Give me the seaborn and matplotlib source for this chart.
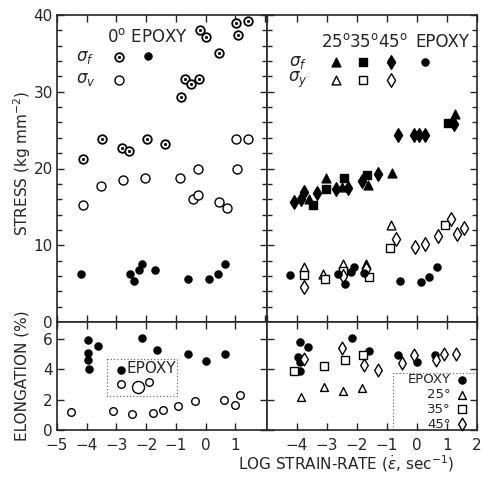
import matplotlib
matplotlib.use("Agg")
import matplotlib.pyplot as plt
import seaborn as sns
from matplotlib.ticker import MultipleLocator

# ---- upper left: stress, 0 deg composite + epoxy ----
x_0f = [-0.18, 0.02, 1.01, 1.43, 1.10, 0.44, -0.69, -0.50, -0.21, -0.83,
        -3.47, -2.80, -2.58, -1.97, -1.37, -4.14]
s_0f = [38.0, 37.1, 39.0, 39.2, 37.4, 35.0, 31.6, 31.0, 31.6, 29.3,
        23.9, 22.7, 22.3, 23.9, 23.2, 21.3]
x_0v = [1.03, 1.42, -0.25, 1.07, -4.12, -3.52, -2.78, -2.05, -0.86, -0.41, -0.25, 0.44, 0.71]
s_0v = [23.9, 23.9, 19.9, 19.9, 15.2, 17.7, 18.5, 18.8, 18.8, 16.0, 16.6, 15.6, 14.8]
x_epf_l = [-4.20, -2.55, -2.42, -2.25, -2.14, -1.69, -0.58, 0.11, 0.41, 0.66]
s_epf_l = [6.3, 6.2, 5.4, 6.8, 7.5, 6.8, 5.6, 5.6, 6.25, 7.5]

# ---- upper right: stress, 25/35/45 deg composites + epoxy ----
x_25f = [-3.61, -3.03, -2.49, -1.62, -0.84, 1.27]
s_25f = [16.0, 18.7, 17.6, 17.8, 19.4, 27.1]
x_35f = [-3.48, -3.04, -2.43, -1.68, 1.04]
s_35f = [15.3, 17.3, 18.8, 19.1, 25.9]
x_45f = [-4.11, -3.88, -3.78, -3.33, -2.70, -2.31, -1.84, -1.31, -0.62, -0.09, 0.07, 0.27, 1.22]
s_45f = [15.6, 16.0, 17.0, 16.8, 17.3, 17.5, 18.4, 19.3, 24.3, 24.3, 24.3, 24.3, 25.8]
x_25y = [-3.76, -3.12, -2.46, -1.71, -0.87]
s_25y = [7.2, 6.2, 7.6, 7.6, 12.7]
x_35y = [-3.76, -3.06, -2.46, -1.61, -0.89, 0.94]
s_35y = [6.1, 5.6, 6.6, 5.8, 9.7, 12.6]
x_45y = [-3.76, -2.46, -1.70, -0.70, -0.08, 0.28, 0.71, 1.12, 1.32, 1.56]
s_45y = [4.6, 6.0, 6.9, 10.8, 9.8, 10.2, 11.2, 13.4, 11.5, 12.2]
x_epf_r = [-4.23, -2.64, -2.40, -2.20, -2.10, -1.78, -0.57, 0.13, 0.40, 0.68]
s_epf_r = [6.1, 6.2, 5.0, 6.5, 7.2, 6.4, 5.4, 5.2, 5.9, 7.2]

# ---- lower left: elongation ----
x_ep_el_l = [-3.95, -3.95, -3.95, -3.92, -3.61, -2.14, -1.65, -0.59, 0.02, 0.64]
e_ep_el_l = [5.92, 5.05, 4.6, 4.0, 5.53, 6.03, 5.28, 5.02, 4.56, 5.0]
x_0_el = [-4.54, -3.13, -2.49, -1.77, -1.43, -0.91, -0.35, 0.61, 0.98, 1.16, -2.83, -1.91]
e_0_el = [1.16, 1.25, 1.05, 1.12, 1.30, 1.56, 1.91, 1.97, 1.66, 2.28, 3.0, 3.14]
x_0_el_big = [-2.27]
e_0_el_big = [2.85]

# ---- lower right: elongation ----
x_ep_el_r = [-3.90, -3.62, -3.96, -3.90, -3.90, -2.18, -1.59, -0.62, 0.00, 0.60]
e_ep_el_r = [5.81, 5.48, 4.82, 4.49, 3.90, 6.03, 5.22, 4.93, 4.49, 4.93]
x_25_el = [-3.88, -3.09, -2.48, -1.82]
e_25_el = [2.19, 2.85, 2.57, 2.74]
x_35_el = [-4.10, -3.09, -2.40, -1.81]
e_35_el = [3.90, 4.21, 4.61, 4.93]
x_45_el = [-3.76, -2.50, -1.77, -1.29, -0.51, -0.11, 0.63, 0.91, 1.29]
e_45_el = [4.65, 5.38, 4.28, 3.95, 4.39, 4.93, 4.61, 4.98, 4.98]

sns.set_style("ticks")
plt.rcParams['font.family'] = ['DejaVu Sans']
plt.rcParams['mathtext.fontset'] = 'dejavusans'
FS = 11


def pts(ax, x, y, marker, face, size, lw=1.0):
    sns.scatterplot(x=x, y=y, ax=ax, marker=marker, s=size, color=face,
                    edgecolor="black", linewidth=lw, legend=False, zorder=3)


def dotted(ax, x, y, size=38):
    pts(ax, x, y, "o", "white", size, lw=1.3)
    pts(ax, x, y, "o", "black", 3, lw=0.5)


def key(ax, x, y, marker, face, size, lw=1.0):
    ax.scatter([x], [y], marker=marker, s=size, c=face, edgecolors="black",
               linewidths=lw, transform=ax.transAxes, zorder=4, clip_on=False)


fig = plt.figure(figsize=(4.82, 4.82), dpi=100)
L, M, R = 57 / 482, 267 / 482, 477 / 482
T, H, B = 1 - 15 / 482, 1 - 322 / 482, 1 - 430 / 482
ax_sl = fig.add_axes([L, H, M - L, T - H])
ax_sr = fig.add_axes([M, H, R - M, T - H])
ax_el = fig.add_axes([L, B, M - L, H - B])
ax_er = fig.add_axes([M, B, R - M, H - B])

# upper left
dotted(ax_sl, x_0f, s_0f)
pts(ax_sl, x_0v, s_0v, "o", "white", 42)
pts(ax_sl, x_epf_l, s_epf_l, "o", "black", 26)

# upper right
pts(ax_sr, x_25f, s_25f, "^", "black", 40)
pts(ax_sr, x_35f, s_35f, "s", "black", 30)
pts(ax_sr, x_45f, s_45f, "d", "black", 48)
pts(ax_sr, x_25y, s_25y, "^", "white", 40)
pts(ax_sr, x_35y, s_35y, "s", "white", 30)
pts(ax_sr, x_45y, s_45y, "d", "white", 48)
pts(ax_sr, x_epf_r, s_epf_r, "o", "black", 26)

# lower left
pts(ax_el, x_ep_el_l, e_ep_el_l, "o", "black", 26)
pts(ax_el, x_0_el, e_0_el, "o", "white", 30)
pts(ax_el, x_0_el_big, e_0_el_big, "o", "white", 75)

# lower right
pts(ax_er, x_ep_el_r, e_ep_el_r, "o", "black", 26)
pts(ax_er, x_25_el, e_25_el, "^", "white", 32)
pts(ax_er, x_35_el, e_35_el, "s", "white", 26)
pts(ax_er, x_45_el, e_45_el, "d", "white", 42)

for ax in (ax_sl, ax_sr, ax_el, ax_er):
    ax.set_xlabel("")
    ax.set_ylabel("")
    for sp in ax.spines.values():
        sp.set_visible(True)
        sp.set_linewidth(1.2)
    ax.xaxis.set_major_locator(MultipleLocator(1))
    ax.tick_params(which="both", direction="in", top=True, right=True,
                   bottom=True, left=True, width=1.0, labelsize=FS)
    ax.tick_params(which="major", length=5)
    ax.tick_params(which="minor", length=3.5)

ax_sl.set_xlim(-5, 2.07)
ax_el.set_xlim(-5, 2.07)
ax_sr.set_xlim(-5, 2)
ax_er.set_xlim(-5, 2)
for ax in (ax_sl, ax_sr):
    ax.set_ylim(0, 40)
    ax.yaxis.set_major_locator(MultipleLocator(10))
    ax.yaxis.set_minor_locator(MultipleLocator(2))
    ax.tick_params(labelbottom=False)
for ax in (ax_el, ax_er):
    ax.set_ylim(0, 7.1)
    ax.yaxis.set_major_locator(MultipleLocator(2))
ax_sr.tick_params(labelleft=False)
ax_er.tick_params(labelleft=False)
ax_sl.tick_params(axis="y", pad=3)
ax_el.tick_params(axis="y", pad=3)
ax_el.tick_params(axis="x", pad=6)
ax_er.tick_params(axis="x", pad=6)
ax_el.set_xticks([-5, -4, -3, -2, -1, 0, 1])
ax_el.set_xticklabels(["\u22125", "\u22124", "\u22123", "\u22122", "\u22121", "0", "1"])
ax_er.set_xticks([-4, -3, -2, -1, 0, 1, 2])
ax_er.set_xticklabels(["\u22124", "\u22123", "\u22122", "\u22121", "0", "1", "2"])

# key, upper left
ax_sl.text(0.24, 0.928, "0$^{\\rm o}$ EPOXY", transform=ax_sl.transAxes,
           fontsize=FS + 1, va="center", ha="left")
ax_sl.text(0.135, 0.862, "$\\sigma_f$", transform=ax_sl.transAxes, fontsize=FS + 1, va="center", ha="center")
ax_sl.text(0.135, 0.79, "$\\sigma_v$", transform=ax_sl.transAxes, fontsize=FS + 1, va="center", ha="center")
key(ax_sl, 0.297, 0.863, "o", "white", 38, 1.3)
key(ax_sl, 0.297, 0.863, "o", "black", 3, 0.5)
key(ax_sl, 0.433, 0.866, "o", "black", 26)
key(ax_sl, 0.297, 0.788, "o", "white", 42)

# key, upper right
for xx, lab in ((0.329, "25$^{\\rm o}$"), (0.462, "35$^{\\rm o}$"), (0.60, "45$^{\\rm o}$"),
                (0.835, "EPOXY")):
    ax_sr.text(xx, 0.912, lab, transform=ax_sr.transAxes, fontsize=FS + 1,
               va="center", ha="center")
ax_sr.text(0.148, 0.847, "$\\sigma_f$", transform=ax_sr.transAxes, fontsize=FS + 1, va="center", ha="center")
ax_sr.text(0.148, 0.788, "$\\sigma_y$", transform=ax_sr.transAxes, fontsize=FS + 1, va="center", ha="center")
for xx, mk, sz in ((0.329, "^", 40), (0.456, "s", 30), (0.590, "d", 48)):
    key(ax_sr, xx, 0.847, mk, "black", sz)
    key(ax_sr, xx, 0.788, mk, "white", sz)
key(ax_sr, 0.754, 0.847, "o", "black", 26)

# key, lower left (dotted box)
ax_el.plot([0.237, 0.57, 0.57, 0.237, 0.237], [0.655, 0.655, 0.315, 0.315, 0.655],
           transform=ax_el.transAxes, ls=(0, (1, 2)), lw=0.8, color="0.35")
key(ax_el, 0.303, 0.556, "o", "black", 26)
ax_el.text(0.333, 0.565, "EPOXY", transform=ax_el.transAxes, fontsize=FS,
           va="center", ha="left")

# key, lower right
ax_er.plot([1.0, 0.601, 0.601], [0.525, 0.525, 0.0], transform=ax_er.transAxes,
           ls=(0, (1, 2)), lw=0.8, color="0.35")
for yy, lab, mk, sz, face in ((0.465, "EPOXY", "o", 26, "black"),
                              (0.325, "25\u00b0", "^", 32, "white"),
                              (0.19, "35\u00b0", "s", 26, "white"),
                              (0.055, "45\u00b0", "d", 42, "white")):
    ax_er.text(0.875, yy, lab, transform=ax_er.transAxes, fontsize=FS - 1.5,
               va="center", ha="right")
    key(ax_er, 0.927, yy, mk, face, sz)

fig.text(0.046, 0.662, "STRESS (kg mm$^{-2}$)", rotation=90, fontsize=FS,
         ha="center", va="center")
fig.text(0.046, 0.22, "ELONGATION (%)", rotation=90, fontsize=FS,
         ha="center", va="center")
fig.text(0.717, 0.039, "LOG STRAIN-RATE ($\\dot{\\epsilon}$, sec$^{-1}$)",
         fontsize=FS, ha="center", va="center")

fig.savefig("out.png", dpi=100)
